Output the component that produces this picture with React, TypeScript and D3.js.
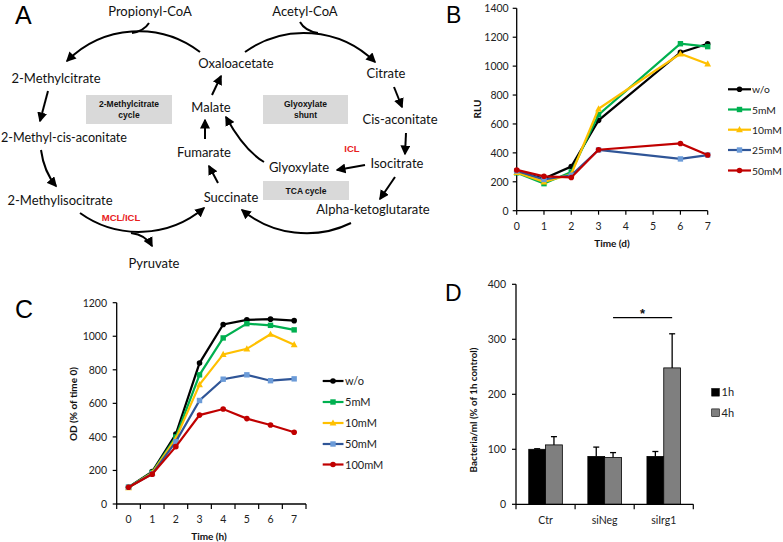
import React from 'react';
import * as d3 from 'd3';

// ---------- Panel B data ----------
const bDays = [0, 1, 2, 3, 6, 7];
const bWo = [270, 222, 305, 625, 1095, 1155];
const b5 = [262, 187, 268, 665, 1155, 1135];
const b10 = [265, 200, 252, 705, 1085, 1015];
const b25 = [275, 216, 245, 420, 358, 385];
const b50 = [282, 238, 230, 422, 465, 385];
const bLabels = ['w/o', '5mM', '10mM', '25mM', '50mM'];
const bYTicks = [0, 200, 400, 600, 800, 1000, 1200, 1400];
const bXTicks = [0, 1, 2, 3, 4, 5, 6, 7];

// ---------- Panel C data ----------
const cHours = ['0', '1', '2', '3', '4', '5', '6', '7'];
const cWo = [100, 193, 417, 840, 1070, 1098, 1102, 1093];
const c5 = [100, 188, 400, 770, 990, 1075, 1065, 1038];
const c10 = [98, 185, 390, 712, 892, 925, 1012, 950];
const c50 = [100, 180, 372, 617, 744, 770, 735, 746];
const c100 = [100, 178, 342, 530, 566, 509, 471, 428];
const cLabels = ['w/o', '5mM', '10mM', '50mM', '100mM'];
const cYTicks = [0, 200, 400, 600, 800, 1000, 1200];

// ---------- Panel D data ----------
const dGroups = ['Ctr', 'siNeg', 'siIrg1'];
const d1h = [100, 87, 87];
const d1hErr = [1, 17, 9];
const d4h = [108, 85, 248];
const d4hErr = [15, 9, 62];
const dLabels = ['1h', '4h'];
const dYTicks = [0, 100, 200, 300, 400];

const FONT = "Lato, 'Liberation Sans', sans-serif";
const ARIAL = "'Liberation Sans', Arial, sans-serif";

type Style = { line: string; fill: string; shape: 'circle' | 'square' | 'triangle' };
const styles: Style[] = [
  { line: '#000000', fill: '#000000', shape: 'circle' },
  { line: '#00b050', fill: '#00b050', shape: 'square' },
  { line: '#ffc000', fill: '#ffc000', shape: 'triangle' },
  { line: '#2f5597', fill: '#6b9bd8', shape: 'square' },
  { line: '#c00000', fill: '#c00000', shape: 'circle' },
];

function Marker({ s, x, y }: { s: Style; x: number; y: number }) {
  if (s.shape === 'circle') return <circle cx={x} cy={y} r={2.8} fill={s.fill} />;
  if (s.shape === 'square') return <rect x={x - 2.7} y={y - 2.7} width={5.4} height={5.4} fill={s.fill} />;
  return <path d={`M${x},${y - 3.6}L${x + 3.4},${y + 2.6}L${x - 3.4},${y + 2.6}Z`} fill={s.fill} />;
}

// ---------- Panel A ----------
type Lbl = { t: string; x: number; y: number };
const aLabels: Lbl[] = [
  { t: 'Propionyl-CoA', x: 150, y: 16 },
  { t: 'Acetyl-CoA', x: 305, y: 16 },
  { t: '2-Methylcitrate', x: 56, y: 83 },
  { t: 'Oxaloacetate', x: 236, y: 68 },
  { t: 'Citrate', x: 386, y: 78 },
  { t: 'Malate', x: 211, y: 112 },
  { t: 'Cis-aconitate', x: 400, y: 124 },
  { t: '2-Methyl-cis-aconitate', x: 64, y: 142 },
  { t: 'Fumarate', x: 204, y: 157 },
  { t: 'Glyoxylate', x: 299, y: 172 },
  { t: 'Isocitrate', x: 397, y: 168 },
  { t: '2-Methylisocitrate', x: 60, y: 205 },
  { t: 'Succinate', x: 231, y: 202 },
  { t: 'Alpha-ketoglutarate', x: 373, y: 214 },
  { t: 'Pyruvate', x: 154, y: 268 },
];
const aBoxes = [
  { x: 86, y: 95, w: 86, h: 29, lines: ['2-Methylcitrate', 'cycle'] },
  { x: 263, y: 95, w: 85, h: 29, lines: ['Glyoxylate', 'shunt'] },
  { x: 263, y: 181, w: 86, h: 19, lines: ['TCA cycle'] },
];
const aArrowPaths = [
  'M200,52 A101,101 0 0 0 67,61',
  'M245,52 A101,101 0 0 1 375,62',
  'M80,213 A101,101 0 0 0 204,208',
  'M351,223 A101,101 0 0 1 242,210',
  'M48,91 L40,121',
  'M41,150 Q44,172 56,186',
  'M218,183 L209,166',
  'M205,139 L205,120',
  'M212,95 L221,76',
  'M394,87 L402,107',
  'M406,133 L405,154',
  'M365,165 L337,170',
  'M395,177 L380,199',
  'M264,162 Q244,150 226,117',
  'M131,233 Q146,235 152,246',
];
const aPlainPaths = ['M149,23 Q144,31 132,33', 'M300,22 Q305,31 318,33'];

function PanelA() {
  return (
    <g>
      <defs>
        <marker id="ah" viewBox="0 0 10 10" refX="8.5" refY="5" markerWidth="10" markerHeight="10"
          markerUnits="userSpaceOnUse" orient="auto">
          <path d="M0,0L10,5L0,10Z" fill="#000" />
        </marker>
      </defs>
      {aBoxes.map((b, i) => (
        <g key={i}>
          <rect x={b.x} y={b.y} width={b.w} height={b.h} fill="#d9d9d9" />
          {b.lines.map((l, j) => (
            <text key={j} x={b.x + b.w / 2}
              y={b.lines.length === 1 ? b.y + b.h / 2 + 3.3 : b.y + 12 + j * 10.5}
              textAnchor="middle" fontFamily={ARIAL} fontWeight="bold" fontSize={8.5} fill="#111">{l}</text>
          ))}
        </g>
      ))}
      {aPlainPaths.map((d, i) => <path key={i} d={d} fill="none" stroke="#000" strokeWidth={2} />)}
      {aArrowPaths.map((d, i) => (
        <path key={i} d={d} fill="none" stroke="#000" strokeWidth={2} markerEnd="url(#ah)" />
      ))}
      {aLabels.map((l, i) => (
        <text key={i} x={l.x} y={l.y} textAnchor="middle" fontFamily={FONT} fontSize={l.t.length > 20 ? 12.6 : 13} fill="#111">{l.t}</text>
      ))}
      <text x={352} y={152} textAnchor="middle" fontFamily={ARIAL} fontWeight="bold" fontSize={9.5} fill="#e8201c">ICL</text>
      <text x={121} y={221} textAnchor="middle" fontFamily={ARIAL} fontWeight="bold" fontSize={9.5} fill="#e8201c">MCL/ICL</text>
    </g>
  );
}

// ---------- Panel B ----------
function PanelB() {
  const x = d3.scaleLinear().domain([0, 7]).range([516.7, 707.7]);
  const y = d3.scaleLinear().domain([0, 1400]).range([210.7, 8.3]);
  const series = [bWo, b5, b10, b25, b50];
  const line = d3.line<number>().x((_, i) => x(bDays[i])).y((v) => y(v));
  const legY = [89.3, 109.5, 129.7, 150, 170.5];
  return (
    <g>
      <line x1={x(0)} x2={x(0)} y1={y(1400)} y2={y(0)} stroke="#000" strokeWidth={1.3} />
      <line x1={x(0)} x2={x(7)} y1={y(0)} y2={y(0)} stroke="#000" strokeWidth={1.3} />
      {bYTicks.map((t) => (
        <g key={t}>
          <line x1={x(0) - 4} x2={x(0)} y1={y(t)} y2={y(t)} stroke="#000" strokeWidth={1.2} />
          <text x={x(0) - 8} y={y(t) + 3.8} textAnchor="end" fontFamily={FONT} fontSize={10.5} fill="#222">{t}</text>
        </g>
      ))}
      {bXTicks.map((t) => (
        <g key={t}>
          <line x1={x(t)} x2={x(t)} y1={y(0)} y2={y(0) + 4} stroke="#000" strokeWidth={1.2} />
          <text x={x(t)} y={230} textAnchor="middle" fontFamily={FONT} fontSize={10.5} fill="#222">{t}</text>
        </g>
      ))}
      <text x={612} y={247} textAnchor="middle" fontFamily={FONT} fontWeight="bold" fontSize={10} fill="#111">Time (d)</text>
      <text transform="translate(481,109) rotate(-90)" textAnchor="middle" fontFamily={FONT} fontWeight="bold" fontSize={10} fill="#111">RLU</text>
      {series.map((s, i) => (
        <g key={i}>
          <path d={line(s) || ''} fill="none" stroke={styles[i].line} strokeWidth={2.2} />
          {s.map((v, j) => <Marker key={j} s={styles[i]} x={x(bDays[j])} y={y(v)} />)}
        </g>
      ))}
      {bLabels.map((l, i) => (
        <g key={l}>
          <line x1={728} x2={751} y1={legY[i]} y2={legY[i]} stroke={styles[i].line} strokeWidth={2.2} />
          <Marker s={styles[i]} x={739.5} y={legY[i]} />
          <text x={752} y={legY[i] + 4} fontFamily={FONT} fontSize={10.3} fill="#222">{l}</text>
        </g>
      ))}
    </g>
  );
}

// ---------- Panel C ----------
function PanelC() {
  const x = d3.scaleBand().domain(cHours).range([116.7, 306]);
  const cx = (h: string) => (x(h) as number) + x.bandwidth() / 2;
  const y = d3.scaleLinear().domain([0, 1200]).range([504, 302.7]);
  const series = [cWo, c5, c10, c50, c100];
  const line = d3.line<number>().x((_, i) => cx(cHours[i])).y((v) => y(v));
  const legY = [381, 402, 423, 444, 464.5];
  const bounds = cHours.map((h) => x(h) as number).concat([306]);
  return (
    <g>
      <line x1={116.7} x2={116.7} y1={y(1200)} y2={y(0)} stroke="#000" strokeWidth={1.3} />
      <line x1={116.7} x2={306} y1={y(0)} y2={y(0)} stroke="#000" strokeWidth={1.3} />
      {cYTicks.map((t) => (
        <g key={t}>
          <line x1={116.7 - 4} x2={116.7} y1={y(t)} y2={y(t)} stroke="#000" strokeWidth={1.2} />
          <text x={107} y={y(t) + 3.8} textAnchor="end" fontFamily={FONT} fontSize={10.5} fill="#222">{t}</text>
        </g>
      ))}
      {bounds.map((b, i) => (
        <line key={i} x1={b} x2={b} y1={y(0)} y2={y(0) + 5} stroke="#000" strokeWidth={1.2} />
      ))}
      {cHours.map((h) => (
        <text key={h} x={cx(h)} y={523} textAnchor="middle" fontFamily={FONT} fontSize={10.5} fill="#222">{h}</text>
      ))}
      <text x={209} y={540} textAnchor="middle" fontFamily={FONT} fontWeight="bold" fontSize={10} fill="#111">Time (h)</text>
      <text transform="translate(77,404) rotate(-90)" textAnchor="middle" fontFamily={FONT} fontWeight="bold" fontSize={10} fill="#111">OD (% of time 0)</text>
      {series.map((s, i) => (
        <g key={i}>
          <path d={line(s) || ''} fill="none" stroke={styles[i].line} strokeWidth={2.2} />
          {s.map((v, j) => <Marker key={j} s={styles[i]} x={cx(cHours[j])} y={y(v)} />)}
        </g>
      ))}
      {cLabels.map((l, i) => (
        <g key={l}>
          <line x1={322.7} x2={343.5} y1={legY[i]} y2={legY[i]} stroke={styles[i].line} strokeWidth={2.2} />
          <Marker s={styles[i]} x={333} y={legY[i]} />
          <text x={345} y={legY[i] + 4} fontFamily={FONT} fontSize={11} fill="#222">{l}</text>
        </g>
      ))}
    </g>
  );
}

// ---------- Panel D ----------
function PanelD() {
  const x0 = d3.scaleBand().domain(dGroups).range([516, 693.3]);
  const x1 = d3.scaleBand().domain(dLabels).range([0, 33.6]);
  const y = d3.scaleLinear().domain([0, 400]).range([504.3, 284.3]);
  const pad = (x0.bandwidth() - 33.6) / 2;
  const vals = [d1h, d4h];
  const errs = [d1hErr, d4hErr];
  const fills = ['#000000', '#7f7f7f'];
  const bx = (g: string, k: string) => (x0(g) as number) + pad + (x1(k) as number);
  const bounds = dGroups.map((g) => x0(g) as number).concat([693.3]);
  const sigX1 = bx('siNeg', '4h') + x1.bandwidth() / 2;
  const sigX2 = bx('siIrg1', '4h') + x1.bandwidth() / 2;
  return (
    <g>
      {dGroups.map((g, gi) =>
        dLabels.map((k, ki) => {
          const v = vals[ki][gi];
          const e = errs[ki][gi];
          const xx = bx(g, k);
          const w = x1.bandwidth();
          return (
            <g key={g + k}>
              <line x1={xx + w / 2} x2={xx + w / 2} y1={y(v)} y2={y(v + e)} stroke="#000" strokeWidth={1.3} />
              <line x1={xx + w / 2 - 3} x2={xx + w / 2 + 3} y1={y(v + e)} y2={y(v + e)} stroke="#000" strokeWidth={1.3} />
              <rect x={xx} y={y(v)} width={w} height={y(0) - y(v)} fill={fills[ki]} stroke="#000" strokeWidth={0.8} />
            </g>
          );
        })
      )}
      <line x1={516} x2={516} y1={y(400)} y2={y(0)} stroke="#000" strokeWidth={1.3} />
      <line x1={516} x2={693.3} y1={y(0)} y2={y(0)} stroke="#000" strokeWidth={1.3} />
      {dYTicks.map((t) => (
        <g key={t}>
          <line x1={512} x2={516} y1={y(t)} y2={y(t)} stroke="#000" strokeWidth={1.2} />
          <text x={506} y={y(t) + 3.8} textAnchor="end" fontFamily={FONT} fontSize={10.5} fill="#222">{t}</text>
        </g>
      ))}
      {bounds.map((b, i) => (
        <line key={i} x1={b} x2={b} y1={y(0)} y2={y(0) + 5} stroke="#000" strokeWidth={1.2} />
      ))}
      {dGroups.map((g) => (
        <text key={g} x={(x0(g) as number) + x0.bandwidth() / 2} y={524} textAnchor="middle" fontFamily={FONT} fontSize={10.5} fill="#222">{g}</text>
      ))}
      <text transform="translate(477,410) rotate(-90)" textAnchor="middle" fontFamily={FONT} fontWeight="bold" fontSize={9.8} fill="#111">Bacteria/ml (% of 1h control)</text>
      <line x1={sigX1} x2={sigX2} y1={317.7} y2={317.7} stroke="#000" strokeWidth={1.2} />
      <text x={(sigX1 + sigX2) / 2} y={318} textAnchor="middle" fontFamily={ARIAL} fontWeight="bold" fontSize={13} fill="#111">*</text>
      {dLabels.map((l, i) => (
        <g key={l}>
          <rect x={711.7} y={[392.3, 412.7][i] - 3.8} width={7.6} height={7.6} fill={fills[i]} stroke="#000" strokeWidth={0.6} />
          <text x={721.5} y={[392.3, 412.7][i] + 4} fontFamily={FONT} fontSize={11} fill="#222">{l}</text>
        </g>
      ))}
    </g>
  );
}

export default function App() {
  return (
    <svg width={783} height={542} viewBox="0 0 783 542"
      style={{ position: 'absolute', left: 0, top: 0, background: '#fff' }}>
      <rect width={783} height={542} fill="#fff" />
      <text x={15} y={24} fontFamily={ARIAL} fontSize={25} fill="#000">A</text>
      <text x={446} y={23} fontFamily={ARIAL} fontSize={23} fill="#000">B</text>
      <text x={15} y={318} fontFamily={ARIAL} fontSize={25} fill="#000">C</text>
      <text x={445} y={301} fontFamily={ARIAL} fontSize={23} fill="#000">D</text>
      <PanelA />
      <PanelB />
      <PanelC />
      <PanelD />
    </svg>
  );
}
